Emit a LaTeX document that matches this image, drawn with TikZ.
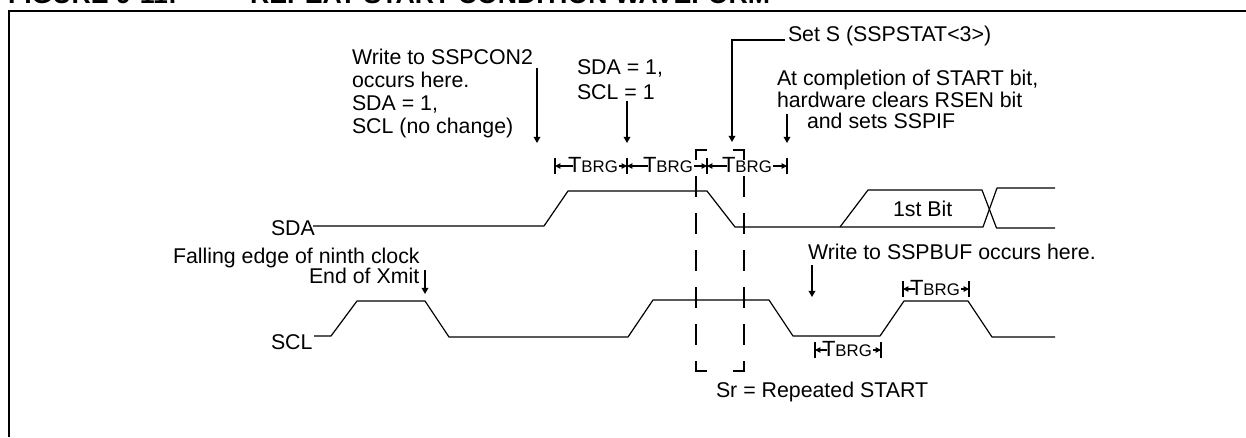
\documentclass[tikz,border=0pt]{standalone}
\usepackage{fontspec}
\setmainfont{Liberation Sans}
\usetikzlibrary{arrows.meta}
\newcommand{\tbrgtext}{{\fontsize{16.5}{18}\selectfont T}{\fontsize{12.6}{14}\selectfont BRG}}
% name, left tick x, right tick x, arrow y, text x
\newcommand{\tbrgdim}[5]{%
  \coordinate (#1-l) at (#2,#4);
  \coordinate (#1-r) at (#3,#4);
  \node[lbl] (#1) at (#5,#4+6) {\tbrgtext};
  \draw[tick] ([yshift=6pt]#1-l) -- ([yshift=-6pt]#1-l);
  \draw[tick] ([yshift=6pt]#1-r) -- ([yshift=-6pt]#1-r);
  \draw[dimline] ([xshift=3.5pt]#1.west |- #1-l) -- (#1-l);
  \draw[dimline] ([xshift=1pt]#1.east |- #1-r) -- (#1-r);
}
\tikzset{
  lbl/.style={anchor=base west,inner sep=0pt,outer sep=0pt,font=\fontsize{16}{19}\selectfont},
  title/.style={anchor=base west,inner sep=0pt,outer sep=0pt,font=\fontsize{20}{24}\selectfont\bfseries},
  frame/.style={line width=1.5pt,line cap=butt,line join=miter},
  wave/.style={line width=0.9pt,line join=round},
  pointer/.style={line width=1pt,-{Triangle[length=4.6pt,width=5pt]}},
  tick/.style={line width=1pt},
  dimline/.style={line width=0.85pt,-{Triangle[length=4pt,width=4pt]}},
  srbox/.style={line width=1.1pt,dash pattern=on 15.75pt off 12pt},
}
\begin{document}
\begin{tikzpicture}[x=0.75pt,y=-0.75pt]
\clip (0,0) rectangle (1246,437);
\path[use as bounding box] (0,0) rectangle (1246,437);
% title, cut by the top edge
\node[title] (fig) at (8,3) {FIGURE 9-11:};
\node[title] (ttl) at (250,3) {REPEAT START CONDITION WAVEFORM};
% frame
\draw[frame] (9,437) -- (9,11) -- (1246,11);
% text
\node[lbl] (w1) at (352,64) {Write to SSPCON2};
\node[lbl] (w2) at (352,87) {occurs here.};
\node[lbl] (w3) at (352,110) {SDA = 1,};
\node[lbl] (w4) at (352,133) {SCL (no change)};
\node[lbl] (s1) at (577,74) {SDA = 1,};
\node[lbl] (s2) at (577,99) {SCL = 1};
\node[lbl] (sets) at (788,41) {Set S (SSPSTAT<3>)};
\node[lbl] (c1) at (777,85) {At completion of START bit,};
\node[lbl] (c2) at (777,107) {hardware clears RSEN bit};
\node[lbl] (c3) at (807,128) {and sets SSPIF};
\node[lbl] (sda) at (271,235) {SDA};
\node[lbl] (scl) at (271,349) {SCL};
\node[lbl] (fe) at (173,263) {Falling edge of ninth clock};
\node[lbl] (eox) at (309,283) {End of Xmit};
\node[lbl] (bit) at (893,216) {1st Bit};
\node[lbl] (wb) at (808,259) {Write to SSPBUF occurs here.};
\node[lbl] (sr) at (716,397) {Sr = Repeated START};
% waveforms
\draw[wave] (313,226) -- (544,226) -- (568,191) -- (707,191) -- (735,227) -- (983,227) -- (997,188) -- (1055,188);
\draw[wave] (840,227) -- (868,190) -- (982,190) -- (996.5,228) -- (1055,228);
\draw[wave] (314,336) -- (331,336) -- (357,301) -- (425,301) -- (449,337) -- (628,337) -- (653,300) -- (769,300) -- (793,336) -- (880,336) -- (904,301) -- (968,301) -- (992,337) -- (1055,337);
% pointers
\coordinate (p1a) at (537,68);  \coordinate (p1b) at (537,143);
\coordinate (p2a) at (627,101); \coordinate (p2b) at (627,143);
\coordinate (p3a) at (785,40);  \coordinate (p3m) at (732,40); \coordinate (p3b) at (732,142);
\coordinate (p4a) at (787,114); \coordinate (p4b) at (787,143);
\coordinate (p5a) at (425,270); \coordinate (p5b) at (425,294);
\coordinate (p6a) at (812,265); \coordinate (p6b) at (812,297);
\draw[pointer] (p1a) -- (p1b);
\draw[pointer] (p2a) -- (p2b);
\draw[pointer] (p3a) -- (p3m) -- (p3b);
\draw[pointer] (p4a) -- (p4b);
\draw[pointer] (p5a) -- (p5b);
\draw[pointer] (p6a) -- (p6b);
% TBRG dimensions
\tbrgdim{d1}{555}{627}{166}{568}
\tbrgdim{d2}{627}{707}{166}{643}
\tbrgdim{d3}{707}{787}{166}{722}
\tbrgdim{d4}{815}{881}{350}{822}
\tbrgdim{d5}{903}{969}{289}{910}
% Sr box
\draw[srbox] (707,150) -- (696,150) -- (696,371) -- (708,371);
\draw[srbox] (733,150) -- (744,150) -- (744,371) -- (733,371);
\end{tikzpicture}
\end{document}
